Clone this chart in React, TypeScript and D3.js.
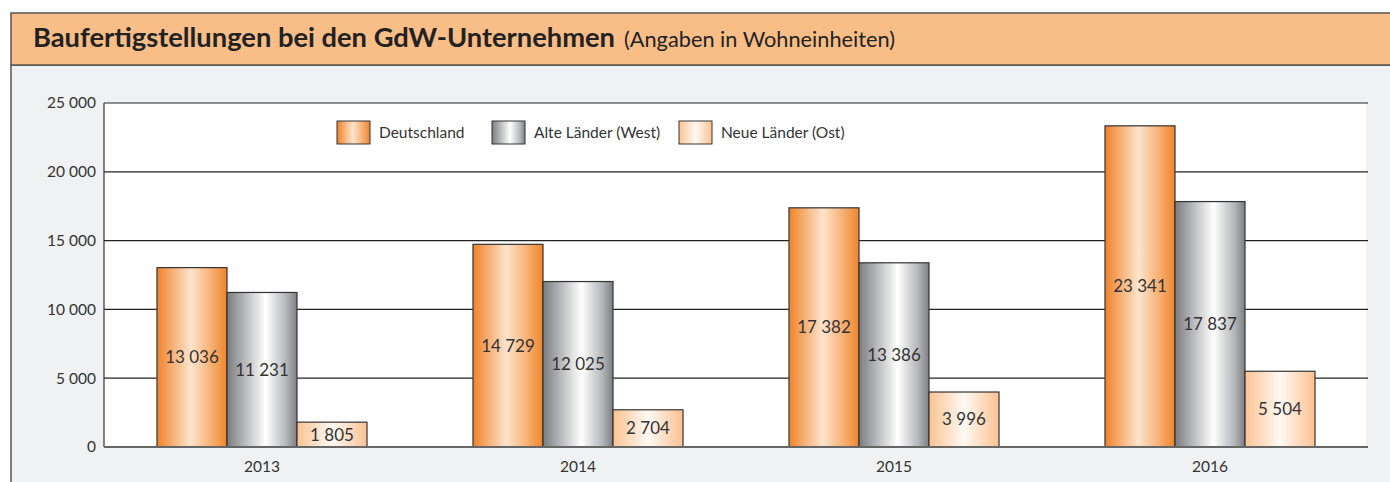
import React from "react";
import * as d3 from "d3";

const years = ["2013", "2014", "2015", "2016"];
const seriesNames = ["Deutschland", "Alte Länder (West)", "Neue Länder (Ost)"];
const deutschland = [13036, 14729, 17382, 23341];
const west = [11231, 12025, 13386, 17837];
const ost = [1805, 2704, 3996, 5504];
const yTicks = [0, 5000, 10000, 15000, 20000, 25000];
const titleBold = "Baufertigstellungen bei den GdW-Unternehmen";
const titleNormal = "(Angaben in Wohneinheiten)";

const W = 1390;
const H = 482;
const FONT = "Lato, 'Open Sans', 'DejaVu Sans', sans-serif";

const locale = d3.formatLocale({ decimal: ",", thousands: " ", grouping: [3], currency: ["", "€"] });
const fmt = locale.format(",d");

const gradIds = ["gD", "gW", "gO"];

export default function App() {
  const plotL = 104;
  const plotR = 1368;
  const plotT = 103;
  const plotB = 447;
  const x = d3.scaleBand<string>().domain(years).range([plotL, plotR]);
  const barW = 70;
  const x1 = d3.scaleBand<string>().domain(seriesNames).range([0, barW * 3]);
  const y = d3.scaleLinear().domain([0, 25000]).range([plotB, plotT]);
  const seriesVals = [deutschland, west, ost];

  const legendX = [337, 492, 679];

  return (
    <svg width={W} height={H} style={{ position: "absolute", left: 0, top: 0 }} fontFamily={FONT}>
      <defs>
        <linearGradient id="gD" x1="0" x2="1" y1="0" y2="0">
          <stop offset="0" stopColor="#f0832a" />
          <stop offset="0.48" stopColor="#fde4cd" />
          <stop offset="0.8" stopColor="#f6ab6b" />
          <stop offset="1" stopColor="#f0852c" />
        </linearGradient>
        <linearGradient id="gW" x1="0" x2="1" y1="0" y2="0">
          <stop offset="0" stopColor="#7b7c80" />
          <stop offset="0.55" stopColor="#ffffff" />
          <stop offset="0.85" stopColor="#b4b5b8" />
          <stop offset="1" stopColor="#7e7f83" />
        </linearGradient>
        <linearGradient id="gO" x1="0" x2="1" y1="0" y2="0">
          <stop offset="0" stopColor="#fbc392" />
          <stop offset="0.5" stopColor="#fff9f4" />
          <stop offset="1" stopColor="#fbc191" />
        </linearGradient>
      </defs>

      {/* frame */}
      <rect x={11} y={65} width={1400} height={440} fill="#f0f1f3" stroke="#555" strokeWidth={1.5} />
      <rect x={11} y={13} width={1400} height={52} fill="#f9bd88" stroke="#555" strokeWidth={1.5} />
      <text x={33} y={47} fontSize={26} fill="#222">
        <tspan fontWeight="bold" textLength={582} lengthAdjust="spacingAndGlyphs">{titleBold}</tspan>
        <tspan dx={9} fontSize={21} textLength={271} lengthAdjust="spacingAndGlyphs">{titleNormal}</tspan>
      </text>

      {/* plot area */}
      <rect x={plotL} y={plotT} width={1366 - plotL} height={plotB - plotT} fill="#ffffff" />
      {yTicks.filter((t) => t > 0).map((t) => (
        <line key={t} x1={plotL} x2={plotR} y1={y(t)} y2={y(t)} stroke="#222" strokeWidth={1.2} />
      ))}
      <line x1={plotL} x2={plotL} y1={plotT} y2={plotB} stroke="#333" strokeWidth={1.2} />
      {yTicks.map((t) => (
        <text key={t} x={96} y={y(t)} dy="0.35em" textAnchor="end" fontSize={15.5} fill="#333">
          {fmt(t)}
        </text>
      ))}

      {/* legend */}
      {seriesNames.map((s, i) => (
        <g key={s}>
          <rect x={legendX[i]} y={121} width={33} height={23} fill={`url(#${gradIds[i]})`} stroke="#333" strokeWidth={1} />
          <text x={legendX[i] + 42} y={132.5} dy="0.35em" fontSize={15.5} fill="#333">
            {s}
          </text>
        </g>
      ))}

      {/* bars */}
      {years.map((yr, yi) => (
        <g key={yr} transform={`translate(${x(yr)! + x.bandwidth() / 2 - (barW * 3) / 2},0)`}>
          {seriesNames.map((s, si) => {
            const v = seriesVals[si][yi];
            const top = y(v);
            return (
              <g key={s}>
                <rect x={x1(s)!} y={top} width={x1.bandwidth()} height={plotB - top} fill={`url(#${gradIds[si]})`} stroke="#333" strokeWidth={1.2} />
                <text x={x1(s)! + x1.bandwidth() / 2} y={(top + plotB) / 2} dy="0.35em" textAnchor="middle" fontSize={17} fill="#333">
                  {fmt(v)}
                </text>
              </g>
            );
          })}
        </g>
      ))}
      <line x1={plotL} x2={plotR} y1={plotB} y2={plotB} stroke="#666" strokeWidth={2} />
      {years.map((yr) => (
        <text key={yr} x={x(yr)! + x.bandwidth() / 2} y={467} dy="0.35em" textAnchor="middle" fontSize={15.5} fill="#333">
          {yr}
        </text>
      ))}
    </svg>
  );
}
